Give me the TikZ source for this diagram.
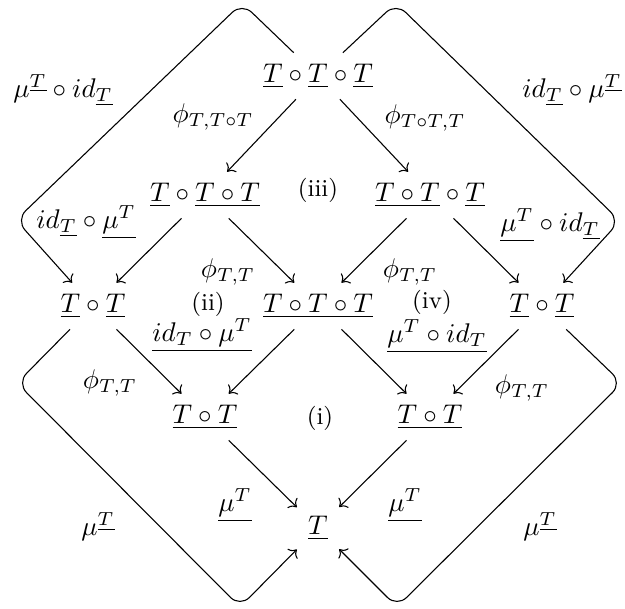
\documentclass[tikz,border=0pt]{standalone}
\usepackage{amsmath, amssymb}
\usepackage{tikz}
\usetikzlibrary{positioning, arrows.meta}

\newcommand{\uT}{\underline{T}}

\begin{document}
\begin{tikzpicture}[x=0.37pt, y=-0.37pt, >=To,
    obj/.style={inner sep=4pt},
    region/.style={font=\small}]

    \useasboundingbox (0,0) rectangle (625,608);

    % the objects
    \node[obj] (top) at (318,76) {$\uT \circ \uT \circ \uT$};
    \node[obj] (tl) at (205,195) {$\uT \circ \underline{T \circ T}$};
    \node[obj] (tr) at (430,195) {$\underline{T \circ T} \circ \uT$};
    \node[obj] (ml) at (93,306) {$\uT \circ \uT$};
    \node[obj] (mc) at (318,306) {$\underline{T \circ T \circ T}$};
    \node[obj] (mr) at (542,306) {$\uT \circ \uT$};
    \node[obj] (bl) at (205,417) {$\underline{T \circ T}$};
    \node[obj] (br) at (430,417) {$\underline{T \circ T}$};
    \node[obj] (bot) at (318,528) {$\uT$};

    % the cells
    \node[region] (c3) at (318,190) {(iii)};
    \node[region] (c2) at (208,304) {(ii)};
    \node[region] (c4) at (432,302) {(iv)};
    \node[region] (c1) at (320,418) {(i)};

    % corners of the outer arrows
    \coordinate (nl) at (242,3);
    \coordinate (wl) at (16,220);
    \coordinate (nr) at (396,3);
    \coordinate (wr) at (620,221);
    \coordinate (el) at (17,383);
    \coordinate (sl) at (240,607);
    \coordinate (er) at (622,383);
    \coordinate (sr) at (397,607);

    \draw[->] (top) -- (tl);
    \draw[->] (top) -- (tr);
    \draw[->] (tl) -- (ml);
    \draw[->] (tl) -- (mc);
    \draw[->] (tr) -- (mc);
    \draw[->] (tr) -- (mr);
    \draw[->] (ml) -- (bl);
    \draw[->] (mc) -- (bl);
    \draw[->] (mc) -- (br);
    \draw[->] (mr) -- (br);
    \draw[->] (bl) -- (bot);
    \draw[->] (br) -- (bot);

    \draw[->, rounded corners=5pt] (top) -- (nl) -- (wl) -- (ml);
    \draw[->, rounded corners=5pt] (top) -- (nr) -- (wr) -- (mr);
    \draw[->, rounded corners=5pt] (ml) -- (el) -- (sl) -- (bot);
    \draw[->, rounded corners=5pt] (mr) -- (er) -- (sr) -- (bot);

    % labels
    \node (a1) at (63,90) {$\mu^{\uT} \circ id_{\uT}$};
    \node (a2) at (572,90) {$id_{\uT} \circ \mu^{\uT}$};
    \node (p1) at (213,117) {$\phi_{T,T\circ T}$};
    \node (p2) at (425,118) {$\phi_{T\circ T,T}$};
    \node (a3) at (86,222) {$id_{\uT} \circ \underline{\mu^T}$};
    \node (a4) at (550,225) {$\underline{\mu^T} \circ id_{\uT}$};
    \node (p3) at (228,272) {$\phi_{T,T}$};
    \node (p4) at (410,272) {$\phi_{T,T}$};
    \node (a5) at (202,335) {$\underline{id_T \circ \mu^T}$};
    \node (a6) at (437,336) {$\underline{\mu^T \circ id_T}$};
    \node (p5) at (110,383) {$\phi_{T,T}$};
    \node (p6) at (522,388) {$\phi_{T,T}$};
    \node (m1) at (235,505) {$\underline{\mu^T}$};
    \node (m2) at (405,505) {$\underline{\mu^T}$};
    \node (m3) at (98,527) {$\mu^{\uT}$};
    \node (m4) at (540,527) {$\mu^{\uT}$};

\end{tikzpicture}
\end{document}
